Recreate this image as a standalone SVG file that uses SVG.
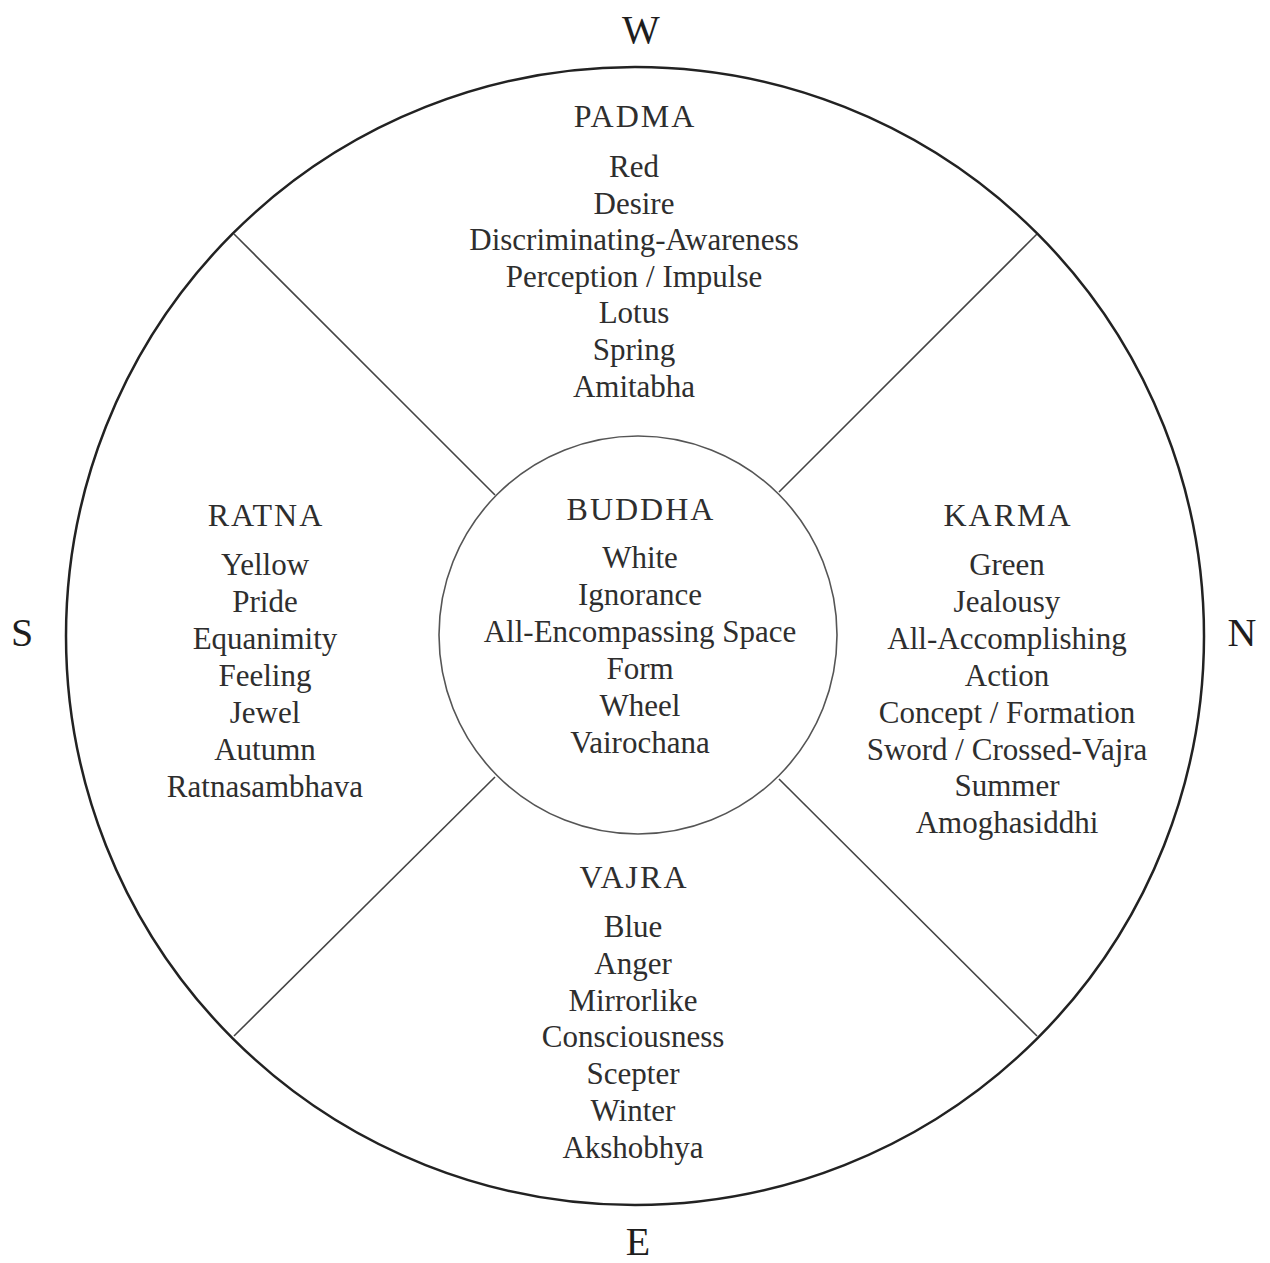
<svg xmlns="http://www.w3.org/2000/svg" width="1270" height="1263" viewBox="0 0 1270 1263">
<style>
text{font-family:"Liberation Serif","Times New Roman",serif;fill:#2e2e2e;text-anchor:middle}
.b{font-size:31px}
.h{font-size:32px;letter-spacing:2px}
.c{font-size:40px;fill:#1e1e1e}
.outer{fill:none;stroke:#222;stroke-width:2.5}
.inner{fill:none;stroke:#555;stroke-width:1.6}
.ln{stroke:#444;stroke-width:1.6}
</style>
<rect width="1270" height="1263" fill="#fff"/>
<g id="connectors">
<line class="ln" x1="234" y1="234" x2="495" y2="495"/>
<line class="ln" x1="1037" y1="234" x2="779" y2="492"/>
<line class="ln" x1="234" y1="1036" x2="495" y2="777"/>
<line class="ln" x1="1037" y1="1036" x2="779" y2="779"/>
</g>
<g id="outer-circle"><circle class="outer" cx="635" cy="636" r="569"/></g>
<g id="buddha">
<circle class="inner" cx="638" cy="635" r="199"/>
<text class="h" x="641" y="520">BUDDHA</text>
<text class="b" x="640" y="568">White</text>
<text class="b" x="640" y="605">Ignorance</text>
<text class="b" x="640" y="642">All-Encompassing Space</text>
<text class="b" x="640" y="679">Form</text>
<text class="b" x="640" y="716">Wheel</text>
<text class="b" x="640" y="753">Vairochana</text>
</g>
<g id="padma">
<text class="h" x="635" y="127">PADMA</text>
<text class="b" x="634" y="177">Red</text>
<text class="b" x="634" y="213.6">Desire</text>
<text class="b" x="634" y="250.2">Discriminating-Awareness</text>
<text class="b" x="634" y="286.8">Perception / Impulse</text>
<text class="b" x="634" y="323.4">Lotus</text>
<text class="b" x="634" y="360">Spring</text>
<text class="b" x="634" y="396.6">Amitabha</text>
</g>
<g id="ratna">
<text class="h" x="266" y="526">RATNA</text>
<text class="b" x="265" y="575">Yellow</text>
<text class="b" x="265" y="612">Pride</text>
<text class="b" x="265" y="649">Equanimity</text>
<text class="b" x="265" y="686">Feeling</text>
<text class="b" x="265" y="723">Jewel</text>
<text class="b" x="265" y="760">Autumn</text>
<text class="b" x="265" y="797">Ratnasambhava</text>
</g>
<g id="karma">
<text class="h" x="1008" y="526">KARMA</text>
<text class="b" x="1007" y="575">Green</text>
<text class="b" x="1007" y="611.9">Jealousy</text>
<text class="b" x="1007" y="648.8">All-Accomplishing</text>
<text class="b" x="1007" y="685.7">Action</text>
<text class="b" x="1007" y="722.6">Concept / Formation</text>
<text class="b" x="1007" y="759.5">Sword / Crossed-Vajra</text>
<text class="b" x="1007" y="796.4">Summer</text>
<text class="b" x="1007" y="833.3">Amoghasiddhi</text>
</g>
<g id="vajra">
<text class="h" x="634" y="888">VAJRA</text>
<text class="b" x="633" y="937">Blue</text>
<text class="b" x="633" y="973.8">Anger</text>
<text class="b" x="633" y="1010.6">Mirrorlike</text>
<text class="b" x="633" y="1047.4">Consciousness</text>
<text class="b" x="633" y="1084.2">Scepter</text>
<text class="b" x="633" y="1121">Winter</text>
<text class="b" x="633" y="1157.8">Akshobhya</text>
</g>
<g id="compass">
<text class="c" x="641" y="43">W</text>
<text class="c" x="22" y="646">S</text>
<text class="c" x="1242" y="646">N</text>
<text class="c" x="638" y="1255">E</text>
</g>
</svg>
